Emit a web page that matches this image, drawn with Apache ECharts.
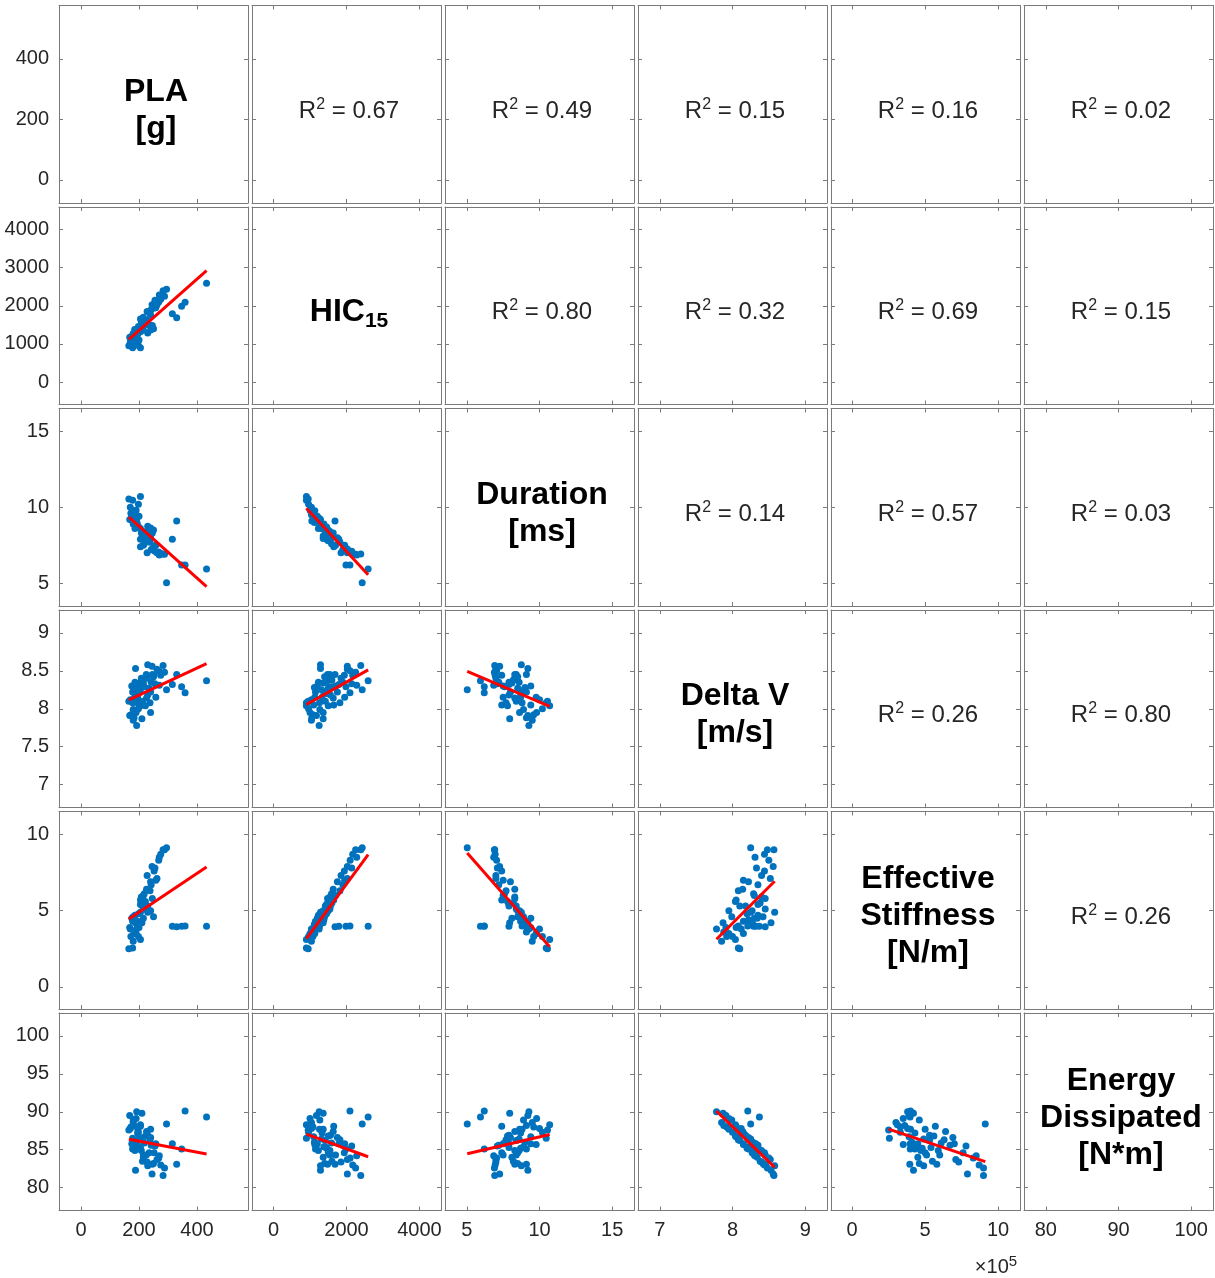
<!DOCTYPE html>
<html>
<head>
<meta charset="utf-8">
<script src="https://cdn.jsdelivr.net/npm/echarts@6/dist/echarts.min.js"></script>
<style>
  html, body { margin: 0; padding: 0; background: #ffffff; }
  #chart { width: 1215px; height: 1278px; }
</style>
</head>
<body>
<div id="chart"></div>
<script>
// Impact test measurements, one entry per test
const pla = [230, 188, 225, 245, 262, 283, 255, 275, 252, 238, 226, 215, 205, 198, 218, 170, 178, 205, 185, 180,
             240, 168, 180, 192, 210, 222, 208, 270, 175, 250, 205, 212, 195, 200, 165, 235, 240, 228, 178, 268,
             205, 212, 190, 230, 258, 288, 172, 196, 193, 185, 215, 198, 186, 246, 242, 183, 315, 330, 347, 359,
             433, 295];
const hic = [1287, 1287, 1545, 2023, 2023, 2391, 2143, 2170, 1940, 1820, 1636, 1362, 1316, 1454, 1590, 1039, 901, 901, 1131, 1269,
             1361, 1177, 1039, 1250, 1361, 1499, 1545, 2280, 1200, 1400, 1450, 1600, 1330, 1100, 950, 1500, 1750, 1850, 1150, 2100,
             1650, 1420, 1000, 1560, 1950, 2250, 1080, 1260, 1120, 1380, 1700, 960, 1230, 1480, 1900, 1050, 1790, 1685, 1985, 2095,
             2593, 2430];
const duration = [8.75, 9.20, 8.40, 7.26, 7.00, 6.92, 7.10, 6.95, 7.40, 7.70, 8.30, 8.10, 8.60, 8.70, 7.60, 10.00, 10.46, 10.70, 9.77, 8.90,
                  8.63, 9.20, 9.50, 9.27, 7.95, 7.80, 8.30, 6.85, 9.40, 8.50, 7.90, 8.20, 8.70, 9.40, 10.55, 8.50, 8.00, 7.00, 9.10, 7.05,
                  7.40, 8.40, 9.80, 7.90, 7.50, 6.90, 9.60, 8.80, 9.00, 8.90, 7.50, 10.20, 8.60, 8.30, 7.20, 9.10, 7.90, 9.10, 6.20, 6.20,
                  5.94, 5.03];
const deltaV = [8.58, 8.53, 8.45, 8.56, 8.52, 8.57, 8.33, 8.44, 8.44, 8.08, 8.14, 8.34, 8.25, 8.20, 8.29, 8.12, 8.08, 8.04, 8.15, 7.99,
                7.95, 7.91, 7.85, 7.78, 7.87, 8.04, 8.40, 8.31, 8.30, 8.42, 8.35, 8.38, 8.15, 8.05, 8.10, 8.27, 8.22, 8.40, 8.22, 8.50,
                8.05, 8.10, 7.95, 8.18, 8.15, 8.48, 7.92, 8.08, 8.28, 8.22, 8.30, 8.00, 8.35, 8.45, 8.35, 7.88, 8.32, 8.45, 8.29, 8.21,
                8.37, 8.25];
// effective stiffness in units of 1e5 N/m
const stiffness = [4.9, 4.2, 5.1, 7.9, 7.1, 9.0, 7.8, 8.7, 7.6, 6.3, 6.4, 4.5, 4.9, 4.8, 6.1, 3.8, 2.55, 3.1, 3.5, 4.6,
                   5.0, 3.9, 3.0, 3.8, 4.2, 5.6, 5.9, 8.5, 4.5, 4.6, 5.4, 5.5, 4.3, 3.9, 2.5, 5.0, 6.9, 7.3, 4.3, 8.3,
                   5.7, 5.3, 3.5, 5.3, 7.0, 9.0, 3.3, 4.0, 4.1, 4.4, 6.0, 3.3, 4.7, 5.8, 6.7, 3.6, 3.97, 3.95, 3.98, 4.00,
                   3.97, 9.12];
const energy = [82.9, 82.3, 84.3, 81.8, 83.7, 81.6, 85.5, 83.0, 84.6, 86.3, 87.4, 84.0, 86.4, 85.2, 85.9, 87.8, 86.5, 88.3, 85.7, 88.9,
                87.7, 89.5, 88.6, 90.0, 89.8, 86.8, 84.9, 84.2, 85.8, 83.2, 85.3, 83.5, 87.2, 86.7, 87.6, 84.6, 86.6, 83.4, 85.1, 83.9,
                88.1, 86.2, 89.1, 86.9, 85.8, 82.6, 88.0, 87.7, 86.0, 85.4, 84.3, 87.3, 84.9, 83.1, 85.6, 88.2, 85.8, 83.1, 85.1, 90.1,
                89.3, 88.4];

// diagonal titles, one list of lines per variable
const variableTitles = [['PLA', '[g]'], ['HIC', '15'], ['Duration', '[ms]'], ['Delta V', '[m/s]'],
                        ['Effective', 'Stiffness', '[N/m]'], ['Energy', 'Dissipated', '[N*m]']];

// R squared of each pair, upper triangle row by row
const rSquaredRows = [[0.67, 0.49, 0.15, 0.16, 0.02],
                      [0.80, 0.32, 0.69, 0.15],
                      [0.14, 0.57, 0.03],
                      [0.26, 0.80],
                      [0.26]];

// axis extents and tick labels per variable
const axisMin = [-76, -590, 3.5, 6.7, -1.45, 77];
const axisMax = [576, 4590, 16.5, 9.3, 11.5, 103];
const xTickValues = [[0, 200, 400], [0, 2000, 4000], [5, 10, 15], [7, 8, 9], [0, 5, 10], [80, 90, 100]];
const yTickValues = [[0, 200, 400], [0, 1000, 2000, 3000, 4000], [5, 10, 15], [7, 7.5, 8, 8.5, 9], [0, 5, 10], [80, 85, 90, 95, 100]];
const stiffnessExponent = '5';

const variables = [pla, hic, duration, deltaV, stiffness, energy];
const N = variables.length;

// panel layout
const LEFT = 59, PITCH_X = 193, CELL_W = 189;
const TOP = 5.5, PITCH_Y = 201.5, CELL_H = 197.5;
const FONT = "'Liberation Sans', Arial, Helvetica, sans-serif";
const BOX = '#7a7a7a';
const TEXT = '#262626';

function lsFit(xs, ys) {
  const n = xs.length;
  let mx = 0, my = 0;
  for (let i = 0; i < n; i++) { mx += xs[i]; my += ys[i]; }
  mx /= n; my /= n;
  let sxy = 0, sxx = 0;
  for (let i = 0; i < n; i++) { sxy += (xs[i] - mx) * (ys[i] - my); sxx += (xs[i] - mx) * (xs[i] - mx); }
  const b = sxy / sxx, a = my - b * mx;
  const x0 = Math.min(...xs), x1 = Math.max(...xs);
  return [[x0, a + b * x0], [x1, a + b * x1]];
}

const grid = [], xAxis = [], yAxis = [], series = [], graphic = [];

function axisCommon(min, max, ticks, showLabel, position) {
  return {
    type: 'value', min: min, max: max, position: position,
    axisLine: { show: true, onZero: false, lineStyle: { color: BOX, width: 1 } },
    axisTick: { show: true, inside: true, length: 4, customValues: ticks, lineStyle: { color: BOX, width: 1 } },
    axisLabel: { show: showLabel, customValues: ticks, color: TEXT, fontFamily: FONT, fontSize: 20, margin: 10,
                 formatter: v => String(v) },
    splitLine: { show: false }
  };
}

for (let r = 0; r < N; r++) {
  for (let c = 0; c < N; c++) {
    const g = r * N + c;
    const left = LEFT + PITCH_X * c, top = TOP + PITCH_Y * r;
    grid.push({ left: left, top: top, width: CELL_W, height: CELL_H, show: false,
                containLabel: false, outerBoundsMode: 'none' });
    xAxis.push(Object.assign(axisCommon(axisMin[c], axisMax[c], xTickValues[c], r === N - 1, 'bottom'), { gridIndex: g }));
    xAxis.push(Object.assign(axisCommon(axisMin[c], axisMax[c], xTickValues[c], false, 'top'), { gridIndex: g }));
    yAxis.push(Object.assign(axisCommon(axisMin[r], axisMax[r], yTickValues[r], c === 0, 'left'), { gridIndex: g }));
    yAxis.push(Object.assign(axisCommon(axisMin[r], axisMax[r], yTickValues[r], false, 'right'), { gridIndex: g }));

    const cx = left + CELL_W / 2 + 2.5, cy = top + CELL_H / 2 + 7;
    if (r > c) {
      const xs = variables[c], ys = variables[r];
      series.push({
        type: 'scatter', xAxisIndex: 2 * g, yAxisIndex: 2 * g,
        data: xs.map((x, i) => [x, ys[i]]),
        symbolSize: 7, itemStyle: { color: '#0072BD', opacity: 1 },
        silent: true, animation: false
      });
      series.push({
        type: 'line', xAxisIndex: 2 * g, yAxisIndex: 2 * g,
        data: lsFit(xs, ys), symbol: 'none',
        lineStyle: { color: '#FF0000', width: 3 }, silent: true, animation: false, z: 5
      });
    } else if (r === c) {
      const lines = variableTitles[r];
      let text, rich;
      if (r === 1) {
        text = '{b|' + lines[0] + '}{s|' + lines[1] + '}';
        rich = { b: { fontSize: 32, fontWeight: 'bold', fontFamily: FONT, fill: '#000', lineHeight: 40 },
                 s: { fontSize: 21, fontWeight: 'bold', fontFamily: FONT, fill: '#000', lineHeight: 22, verticalAlign: 'bottom' } };
      } else {
        text = lines.map(s => '{b|' + s + '}').join('\n');
        rich = { b: { fontSize: 32, fontWeight: 'bold', fontFamily: FONT, fill: '#000', lineHeight: 37 } };
      }
      graphic.push({ type: 'text', x: cx, y: cy - 1, silent: true,
        style: { text: text, rich: rich, align: 'center', verticalAlign: 'middle' } });
    } else {
      const val = rSquaredRows[r][c - r - 1];
      graphic.push({ type: 'text', x: cx, y: cy, silent: true,
        style: {
          text: '{n|R}{s|2}{n| = ' + val.toFixed(2) + '}',
          rich: { n: { fontSize: 24, fontFamily: FONT, fill: TEXT, lineHeight: 30 },
                  s: { fontSize: 16, fontFamily: FONT, fill: TEXT, lineHeight: 18, verticalAlign: 'top' } },
          align: 'center', verticalAlign: 'middle'
        } });
    }
  }
}

// exponent note under the stiffness axis
graphic.push({ type: 'text', x: 996, y: 1267, silent: true,
  style: { text: '{n|\u00d710}{s|' + stiffnessExponent + '}',
           rich: { n: { fontSize: 20, fontFamily: FONT, fill: TEXT, lineHeight: 26 },
                   s: { fontSize: 15, fontFamily: FONT, fill: TEXT, lineHeight: 16, verticalAlign: 'top' } },
           align: 'center', verticalAlign: 'middle' } });

const chart = echarts.init(document.getElementById('chart'), null, { renderer: 'canvas' });
chart.setOption({
  backgroundColor: '#ffffff',
  animation: false,
  grid: grid, xAxis: xAxis, yAxis: yAxis, series: series, graphic: graphic
});
</script>
</body>
</html>
